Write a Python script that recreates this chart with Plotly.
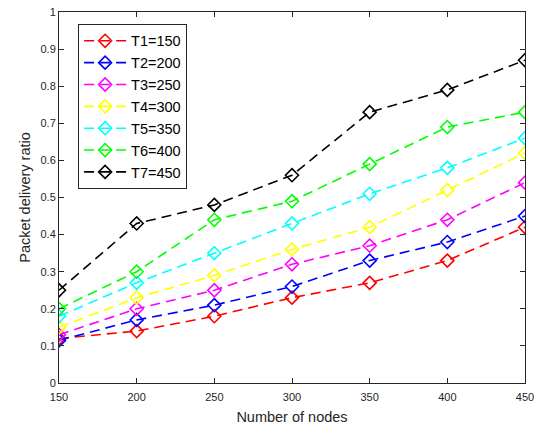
import plotly.graph_objects as go

nodes = [150, 200, 250, 300, 350, 400, 450]
names = ["T1=150", "T2=200", "T3=250", "T4=300", "T5=350", "T6=400", "T7=450"]
colors = ["#ff0000", "#0000ff", "#ff00ff", "#ffff00", "#00ffff", "#00ff00", "#000000"]
t1 = [0.12, 0.14, 0.18, 0.23, 0.27, 0.33, 0.42]
t2 = [0.115, 0.17, 0.21, 0.26, 0.33, 0.38, 0.45]
t3 = [0.13, 0.20, 0.25, 0.32, 0.37, 0.44, 0.54]
t4 = [0.15, 0.23, 0.29, 0.36, 0.42, 0.52, 0.62]
t5 = [0.18, 0.27, 0.35, 0.43, 0.51, 0.58, 0.66]
t6 = [0.20, 0.30, 0.44, 0.49, 0.59, 0.69, 0.73]
t7 = [0.25, 0.43, 0.48, 0.56, 0.73, 0.79, 0.87]
series = [t1, t2, t3, t4, t5, t6, t7]
x_ticks = [150, 200, 250, 300, 350, 400, 450]
y_ticks = [0, 0.1, 0.2, 0.3, 0.4, 0.5, 0.6, 0.7, 0.8, 0.9, 1]

fig = go.Figure()
for name, col, ys in zip(names, colors, series):
    fig.add_trace(go.Scatter(
        x=nodes, y=ys, name=name, mode="lines+markers",
        line=dict(color=col, width=1.6, dash="10px,6px"),
        marker=dict(symbol="diamond-open", size=10, color=col, line=dict(width=1.6, color=col)),
    ))

font = "Liberation Sans, Arial, sans-serif"
axis_common = dict(
    showline=True, linecolor="#262626", linewidth=1, mirror="ticks",
    ticks="inside", ticklen=5, tickcolor="#262626", showgrid=False, zeroline=False,
    tickfont=dict(family=font, size=11, color="#262626"),
)
fig.update_xaxes(range=[150, 450], tickvals=x_ticks, ticklabelstandoff=4,
                 title=dict(text="Number of nodes", font=dict(family=font, size=14.5, color="#262626"), standoff=9),
                 **axis_common)
fig.update_yaxes(range=[0, 1], tickvals=y_ticks, ticktext=[f"{v:g}" for v in y_ticks],
                 title=dict(text="Packet delivery ratio", font=dict(family=font, size=14.5, color="#262626"), standoff=6),
                 **axis_common)
fig.update_layout(
    width=538, height=430,
    margin=dict(l=59, r=13, t=12, b=47, autoexpand=False),
    paper_bgcolor="white", plot_bgcolor="white",
    font=dict(family=font, color="#262626"),
    legend=dict(x=0.041, y=0.968, xanchor="left", yanchor="top",
                bordercolor="#262626", borderwidth=1, bgcolor="white",
                font=dict(family=font, size=14.5, color="#000000"),
                tracegroupgap=0, itemwidth=42),
)
fig.write_html("out.html", config={"displayModeBar": False},
               post_script="document.body.style.margin='0';")
